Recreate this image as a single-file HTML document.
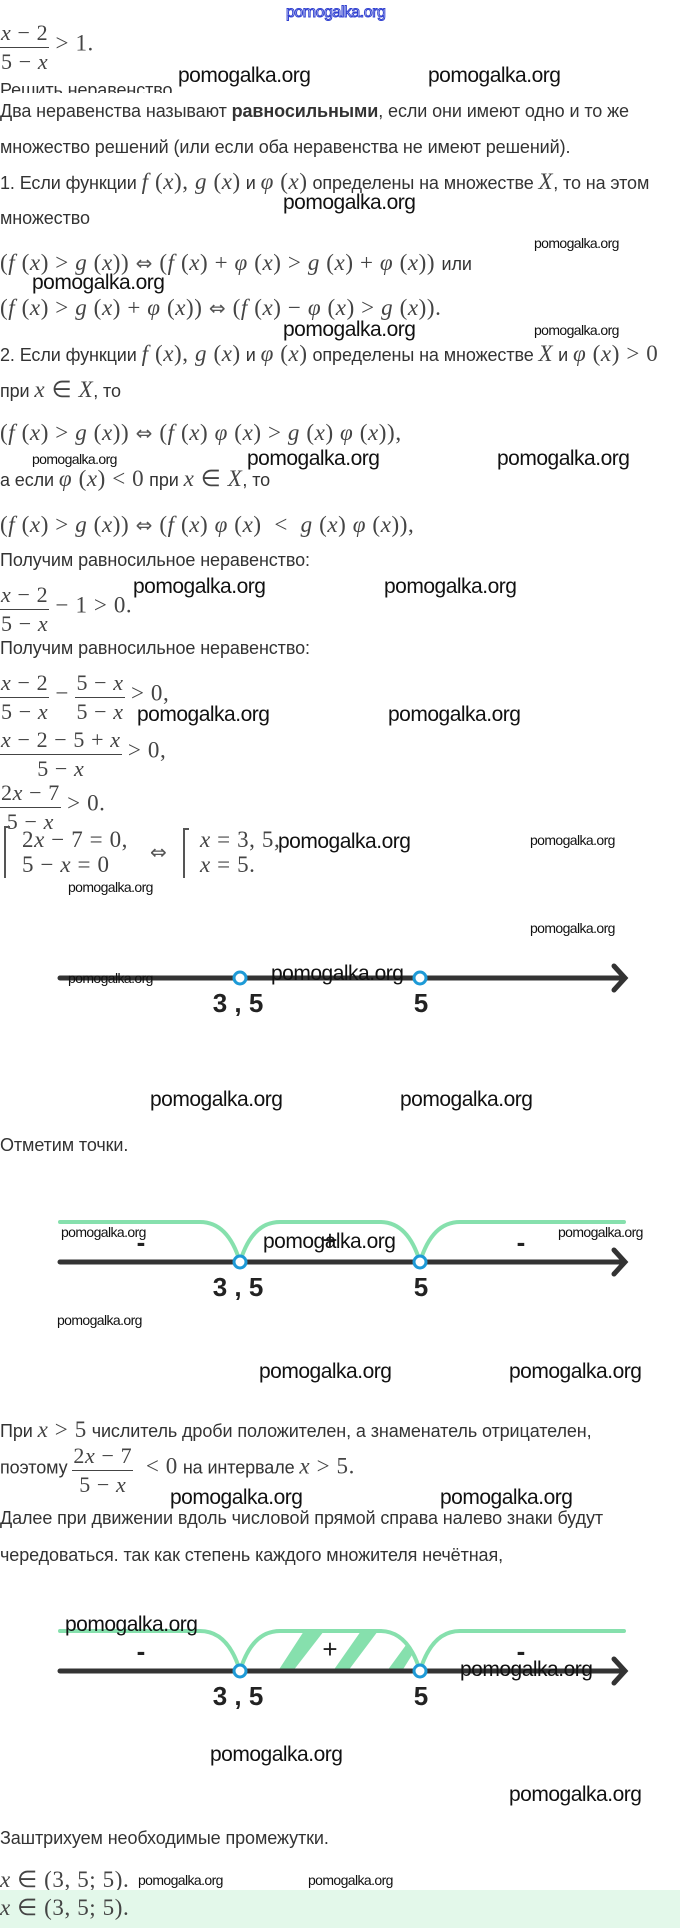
<!DOCTYPE html>
<html><head><meta charset="utf-8">
<style>
*{margin:0;padding:0;box-sizing:border-box}
body{width:680px;height:1928px;position:relative;background:#fff;overflow:hidden;color:#333}
.a{position:absolute;white-space:nowrap}
.t{font-family:"Liberation Sans","DejaVu Sans",sans-serif;font-size:18px;color:#333;line-height:22px;letter-spacing:-0.1px}
.m{font-family:"Liberation Serif",serif;font-size:23px;color:#444;line-height:26px;letter-spacing:0.6px}
.m i{font-style:italic}
.ar{font-family:"DejaVu Sans",sans-serif;font-size:20px;color:#555}
.w{font-family:"Liberation Sans",sans-serif;font-size:21px;color:#111;line-height:24px;letter-spacing:-0.5px}
.s{font-family:"Liberation Sans",sans-serif;font-size:14px;color:#111;line-height:16px;letter-spacing:-0.6px}
.fr{display:inline-flex;flex-direction:column;align-items:center;vertical-align:middle;font-family:"Liberation Serif",serif;font-size:22px;color:#444;line-height:27px;letter-spacing:0.6px}
.fr>span:first-child{border-bottom:1.5px solid #444;padding:0 1px 1px}
.fr>span{display:block;text-align:center;width:100%}
</style></head><body>

<div class="a" style="left:286px;top:4px;font-family:'Liberation Sans',sans-serif;font-size:16px;color:#fff;-webkit-text-stroke:1px #3040d0;letter-spacing:-0.5px">pomogalka.org</div>

<div class="a" style="left:0;top:19px"><span class="fr"><span><i>x</i> − 2</span><span>5 − <i>x</i></span></span><span class="m"> &gt; 1.</span></div>
<div class="a w" style="left:178px;top:64px">pomogalka.org</div>
<div class="a w" style="left:428px;top:64px">pomogalka.org</div>
<div class="a t" style="left:0;top:79px;height:14px;overflow:hidden">Решить неравенство</div>

<div class="a t" style="left:0;top:100px">Два неравенства называют <b>равносильными</b>, если они имеют одно и то же</div>
<div class="a t" style="left:0;top:136px">множество решений (или если оба неравенства не имеют решений).</div>
<div class="a t" style="left:0;top:169px">1. Если функции <span class="m"><i>f</i> (<i>x</i>), <i>g</i> (<i>x</i>)</span> и <span class="m"><i>φ</i> (<i>x</i>)</span> определены на множестве <span class="m"><i>X</i></span>, то на этом</div>
<div class="a w" style="left:283px;top:191px">pomogalka.org</div>
<div class="a t" style="left:0;top:207px">множество</div>
<div class="a s" style="left:534px;top:235px">pomogalka.org</div>
<div class="a m" style="left:0;top:250px">(<i>f</i> (<i>x</i>) &gt; <i>g</i> (<i>x</i>)) <span class="ar">⇔</span> (<i>f</i> (<i>x</i>) + <i>φ</i> (<i>x</i>) &gt; <i>g</i> (<i>x</i>) + <i>φ</i> (<i>x</i>)) <span class="t">или</span></div>
<div class="a w" style="left:32px;top:271px">pomogalka.org</div>
<div class="a m" style="left:0;top:295px">(<i>f</i> (<i>x</i>) &gt; <i>g</i> (<i>x</i>) + <i>φ</i> (<i>x</i>)) <span class="ar">⇔</span> (<i>f</i> (<i>x</i>) − <i>φ</i> (<i>x</i>) &gt; <i>g</i> (<i>x</i>)).</div>
<div class="a w" style="left:283px;top:318px">pomogalka.org</div>
<div class="a s" style="left:534px;top:322px">pomogalka.org</div>
<div class="a t" style="left:0;top:341px">2. Если функции <span class="m"><i>f</i> (<i>x</i>), <i>g</i> (<i>x</i>)</span> и <span class="m"><i>φ</i> (<i>x</i>)</span> определены на множестве <span class="m"><i>X</i></span> и <span class="m"><i>φ</i> (<i>x</i>) &gt; 0</span></div>
<div class="a t" style="left:0;top:377px">при <span class="m"><i>x</i> ∈ <i>X</i></span>, то</div>
<div class="a m" style="left:0;top:420px">(<i>f</i> (<i>x</i>) &gt; <i>g</i> (<i>x</i>)) <span class="ar">⇔</span> (<i>f</i> (<i>x</i>) <i>φ</i> (<i>x</i>) &gt; <i>g</i> (<i>x</i>) <i>φ</i> (<i>x</i>)),</div>
<div class="a s" style="left:32px;top:451px">pomogalka.org</div>
<div class="a w" style="left:247px;top:447px">pomogalka.org</div>
<div class="a w" style="left:497px;top:447px">pomogalka.org</div>
<div class="a t" style="left:0;top:466px">а если <span class="m"><i>φ</i> (<i>x</i>) &lt; 0</span> при <span class="m"><i>x</i> ∈ <i>X</i></span>, то</div>
<div class="a m" style="left:0;top:512px">(<i>f</i> (<i>x</i>) &gt; <i>g</i> (<i>x</i>)) <span class="ar">⇔</span> (<i>f</i> (<i>x</i>) <i>φ</i> (<i>x</i>) &nbsp;&lt;&nbsp; <i>g</i> (<i>x</i>) <i>φ</i> (<i>x</i>)),</div>
<div class="a t" style="left:0;top:549px">Получим равносильное неравенство:</div>
<div class="a w" style="left:133px;top:575px">pomogalka.org</div>
<div class="a w" style="left:384px;top:575px">pomogalka.org</div>
<div class="a" style="left:0;top:581px"><span class="fr"><span><i>x</i> − 2</span><span>5 − <i>x</i></span></span><span class="m"> − 1 &gt; 0.</span></div>
<div class="a t" style="left:0;top:637px">Получим равносильное неравенство:</div>
<div class="a" style="left:0;top:669px"><span class="fr"><span><i>x</i> − 2</span><span>5 − <i>x</i></span></span><span class="m"> − </span><span class="fr"><span>5 − <i>x</i></span><span>5 − <i>x</i></span></span><span class="m"> &gt; 0,</span></div>
<div class="a w" style="left:137px;top:703px">pomogalka.org</div>
<div class="a w" style="left:388px;top:703px">pomogalka.org</div>
<div class="a" style="left:0;top:726px"><span class="fr"><span><i>x</i> − 2 − 5 + <i>x</i></span><span>5 − <i>x</i></span></span><span class="m"> &gt; 0,</span></div>
<div class="a" style="left:0;top:779px"><span class="fr"><span>2<i>x</i> − 7</span><span>5 − <i>x</i></span></span><span class="m"> &gt; 0.</span></div>
<div class="a" style="left:4px;top:826px;width:2px;height:52px;background:#555"></div>
<div class="a" style="left:4px;top:826px;width:6px;height:1.5px;background:#555"></div>
<div class="a m" style="left:22px;top:827px">2<i>x</i> − 7 = 0,</div>
<div class="a m" style="left:22px;top:852px">5 − <i>x</i> = 0</div>
<div class="a ar" style="left:150px;top:840px">⇔</div>
<div class="a" style="left:183px;top:828px;width:2px;height:50px;background:#555"></div>
<div class="a" style="left:183px;top:828px;width:6px;height:1.5px;background:#555"></div>
<div class="a m" style="left:200px;top:827px"><i>x</i> = 3, 5,</div>
<div class="a m" style="left:200px;top:852px"><i>x</i> = 5.</div>
<div class="a w" style="left:278px;top:830px">pomogalka.org</div>
<div class="a s" style="left:530px;top:832px">pomogalka.org</div>
<div class="a s" style="left:68px;top:879px">pomogalka.org</div>
<div class="a s" style="left:530px;top:920px">pomogalka.org</div>

<svg class="a" style="left:0;top:0" width="680" height="1928">
<g stroke-linecap="round" fill="none">
<line x1="60" y1="978" x2="624" y2="978" stroke="#333" stroke-width="5"/>
<polyline points="614,966 625,978 614,990" stroke="#333" stroke-width="5"/>
<path d="M60 1222 H200 Q228 1222 240 1262 Q252 1222 280 1222 H380 Q408 1222 420 1262 Q432 1222 460 1222 H624" stroke="#86e0ad" stroke-width="4"/>
<line x1="60" y1="1262" x2="624" y2="1262" stroke="#333" stroke-width="5"/>
<polyline points="614,1250 625,1262 614,1274" stroke="#333" stroke-width="5"/>
<path d="M60 1631 H200 Q228 1631 240 1671 Q252 1631 280 1631 H380 Q408 1631 420 1671 Q432 1631 460 1631 H624" stroke="#86e0ad" stroke-width="4"/>
</g>
<g fill="#86e0ad">
<polygon points="278,1671 293,1671 324,1631 304,1631"/>
<polygon points="333,1671 348,1671 378,1631 361,1631"/>
<polygon points="387,1671 402,1671 412,1655 406,1645"/>
</g>
<g stroke-linecap="round" fill="none">
<line x1="60" y1="1671" x2="624" y2="1671" stroke="#333" stroke-width="5"/>
<polyline points="614,1659 625,1671 614,1683" stroke="#333" stroke-width="5"/>
</g>
<g fill="#fff" stroke="#1e9ad6" stroke-width="3">
<circle cx="240" cy="978" r="6"/><circle cx="420" cy="978" r="6"/>
<circle cx="240" cy="1262" r="6"/><circle cx="420" cy="1262" r="6"/>
<circle cx="240" cy="1671" r="6"/><circle cx="420" cy="1671" r="6"/>
</g>
<g font-family="Liberation Sans, sans-serif" font-size="26" font-weight="bold" fill="#222" text-anchor="middle">
<text x="238" y="1012">3 , 5</text><text x="421" y="1012">5</text>
<text x="238" y="1296">3 , 5</text><text x="421" y="1296">5</text>
<text x="238" y="1705">3 , 5</text><text x="421" y="1705">5</text>
<text x="141" y="1251">-</text><text x="521" y="1251">-</text>
<text x="330" y="1249" font-weight="normal">+</text>
<text x="141" y="1660">-</text><text x="521" y="1660">-</text>
<text x="330" y="1658" font-weight="normal">+</text>
</g>
</svg>

<div class="a s" style="left:68px;top:970px">pomogalka.org</div>
<div class="a w" style="left:271px;top:962px">pomogalka.org</div>
<div class="a w" style="left:150px;top:1088px">pomogalka.org</div>
<div class="a w" style="left:400px;top:1088px">pomogalka.org</div>
<div class="a t" style="left:0;top:1134px">Отметим точки.</div>
<div class="a s" style="left:61px;top:1224px">pomogalka.org</div>
<div class="a s" style="left:558px;top:1224px">pomogalka.org</div>
<div class="a w" style="left:263px;top:1230px">pomogalka.org</div>
<div class="a s" style="left:57px;top:1312px">pomogalka.org</div>
<div class="a w" style="left:259px;top:1360px">pomogalka.org</div>
<div class="a w" style="left:509px;top:1360px">pomogalka.org</div>
<div class="a t" style="left:0;top:1417px">При <span class="m"><i>x</i> &gt; 5</span> числитель дроби положителен, а знаменатель отрицателен,</div>
<div class="a" style="left:0;top:1442px"><span class="t">поэтому </span><span class="fr"><span>2<i>x</i> − 7</span><span>5 − <i>x</i></span></span><span class="m"> &nbsp;&lt; 0</span><span class="t"> на интервале </span><span class="m"><i>x</i> &gt; 5.</span></div>
<div class="a w" style="left:170px;top:1486px">pomogalka.org</div>
<div class="a w" style="left:440px;top:1486px">pomogalka.org</div>
<div class="a t" style="left:0;top:1507px">Далее при движении вдоль числовой прямой справа налево знаки будут</div>
<div class="a t" style="left:0;top:1544px">чередоваться. так как степень каждого множителя нечётная,</div>
<div class="a w" style="left:65px;top:1613px">pomogalka.org</div>
<div class="a w" style="left:460px;top:1658px">pomogalka.org</div>
<div class="a w" style="left:210px;top:1743px">pomogalka.org</div>
<div class="a w" style="left:509px;top:1783px">pomogalka.org</div>
<div class="a t" style="left:0;top:1827px">Заштрихуем необходимые промежутки.</div>
<div class="a m" style="left:0;top:1867px"><i>x</i> ∈ (3, 5; 5).</div>
<div class="a s" style="left:138px;top:1872px">pomogalka.org</div>
<div class="a s" style="left:308px;top:1872px">pomogalka.org</div>
<div class="a" style="left:0;top:1890px;width:680px;height:38px;background:#e3f8ea"></div>
<div class="a m" style="left:0;top:1895px"><i>x</i> ∈ (3, 5; 5).</div>
</body></html>
